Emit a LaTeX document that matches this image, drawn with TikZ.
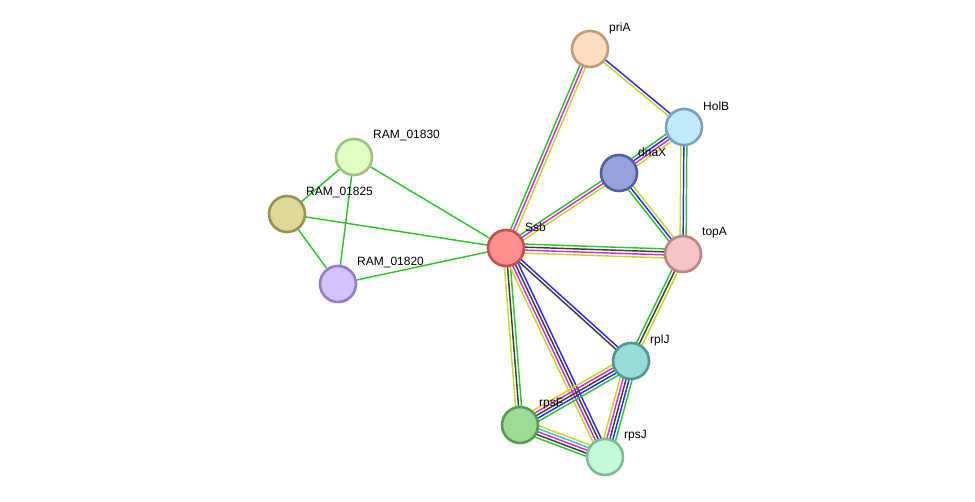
\documentclass[tikz,border=0pt]{standalone}
\usepackage{fontspec}
\setmainfont{Liberation Sans}
\usetikzlibrary{calc,backgrounds}

% evidence line colours
\definecolor{lgreen}{RGB}{45,195,45}
\definecolor{lblue}{RGB}{40,40,250}
\definecolor{lmag}{RGB}{220,40,220}
\definecolor{lyel}{RGB}{195,215,40}
\definecolor{lblack}{RGB}{60,60,60}
\definecolor{lcyan}{RGB}{60,190,230}

% node colours
\definecolor{priaF}{RGB}{255,221,192}\definecolor{priaD}{RGB}{190,155,122}
\definecolor{holbF}{RGB}{194,233,250}\definecolor{holbD}{RGB}{122,162,192}
\definecolor{dnaxF}{RGB}{152,162,222}\definecolor{dnaxD}{RGB}{85,95,162}
\definecolor{ssbF}{RGB}{255,142,142}\definecolor{ssbD}{RGB}{190,82,82}
\definecolor{topaF}{RGB}{245,196,196}\definecolor{topaD}{RGB}{190,132,132}
\definecolor{r30F}{RGB}{224,255,194}\definecolor{r30D}{RGB}{162,192,132}
\definecolor{r25F}{RGB}{222,218,150}\definecolor{r25D}{RGB}{152,147,82}
\definecolor{r20F}{RGB}{212,192,250}\definecolor{r20D}{RGB}{145,125,200}
\definecolor{rpljF}{RGB}{152,222,214}\definecolor{rpljD}{RGB}{80,152,142}
\definecolor{rpsfF}{RGB}{157,220,147}\definecolor{rpsfD}{RGB}{92,152,87}
\definecolor{rpsjF}{RGB}{197,250,217}\definecolor{rpsjD}{RGB}{127,187,152}

% protein: name, position, label, fill, border
\newcommand{\prot}[5]{%
  \node[prot, fill=#4, draw=#5] (#1) at (#2) {};
  \node[lbl] (#1-l) at ($(#1)+(19,-21)$) {#3};}

% bundle of parallel evidence lines between two proteins
\newcommand{\bundle}[3]{%
  \foreach \c [count=\i] in {#3} {\xdef\nlines{\i}}
  \foreach \c [count=\i] in {#3} {
    \pgfmathsetmacro{\off}{((\nlines+1)/2-\i)*3}
    \draw[link, \c] ($(#1)!\off pt!90:(#2)$) -- ($(#2)!\off pt!-90:(#1)$);
  }}

\begin{document}
\begin{tikzpicture}[x=1pt, y=-1pt,
  prot/.style={circle, minimum size=36pt, inner sep=0pt, line width=2.6pt},
  lbl/.style={anchor=west, inner sep=0pt, font=\fontsize{12}{14}\selectfont},
  link/.style={line width=1.45pt}]
\useasboundingbox (0,0) rectangle (975,502);

% --- Proteins ---
\prot{pria}{590,49}{priA}{priaF}{priaD}
\prot{holb}{684,127}{HolB}{holbF}{holbD}
\prot{dnax}{619,173}{dnaX}{dnaxF}{dnaxD}
\prot{ssb}{506,248}{Ssb}{ssbF}{ssbD}
\prot{topa}{683,254}{topA}{topaF}{topaD}
\prot{ram30}{354,157}{RAM\_01830}{r30F}{r30D}
\prot{ram25}{287,214}{RAM\_01825}{r25F}{r25D}
\prot{ram20}{338,284}{RAM\_01820}{r20F}{r20D}
\prot{rplj}{631,361}{rplJ}{rpljF}{rpljD}
\prot{rpsf}{520,425}{rpsF}{rpsfF}{rpsfD}
\prot{rpsj}{605,457}{rpsJ}{rpsjF}{rpsjD}

% --- Interactions ---
\begin{pgfonlayer}{background}
% RAM cluster
\draw[link, lgreen] (ram30) -- (ram25);
\draw[link, lgreen] (ram30) -- (ram20);
\draw[link, lgreen] (ram25) -- (ram20);
\draw[link, lgreen] (ram30) -- (ssb);
\draw[link, lgreen] (ram25) -- (ssb);
\draw[link, lgreen] (ram20) -- (ssb);

% replication proteins
\bundle{ssb}{pria}{lgreen,lmag,lyel}
\bundle{pria}{holb}{lblue,lyel}
\bundle{dnax}{holb}{lgreen,lblue,lmag,lyel}
\bundle{holb}{topa}{lgreen,lblue,lyel}
\bundle{ssb}{dnax}{lgreen,lmag,lyel}
\bundle{dnax}{topa}{lyel,lblue,lgreen}
\bundle{ssb}{topa}{lgreen,lblack,lmag,lyel}
\bundle{topa}{rplj}{lyel,lblack,lgreen}

% ribosomal proteins
\bundle{ssb}{rplj}{lblue,lblack}
\bundle{ssb}{rpsf}{lgreen,lblack,lyel}
\bundle{ssb}{rpsj}{lblue,lblack,lmag,lyel}
\bundle{rplj}{rpsf}{lgreen,lblue,lblack,lmag,lyel}
\bundle{rplj}{rpsj}{lgreen,lblue,lblack,lmag,lyel}
\bundle{rpsf}{rpsj}{lyel,lcyan,lmag,lblack,lgreen}
\end{pgfonlayer}

\end{tikzpicture}
\end{document}
